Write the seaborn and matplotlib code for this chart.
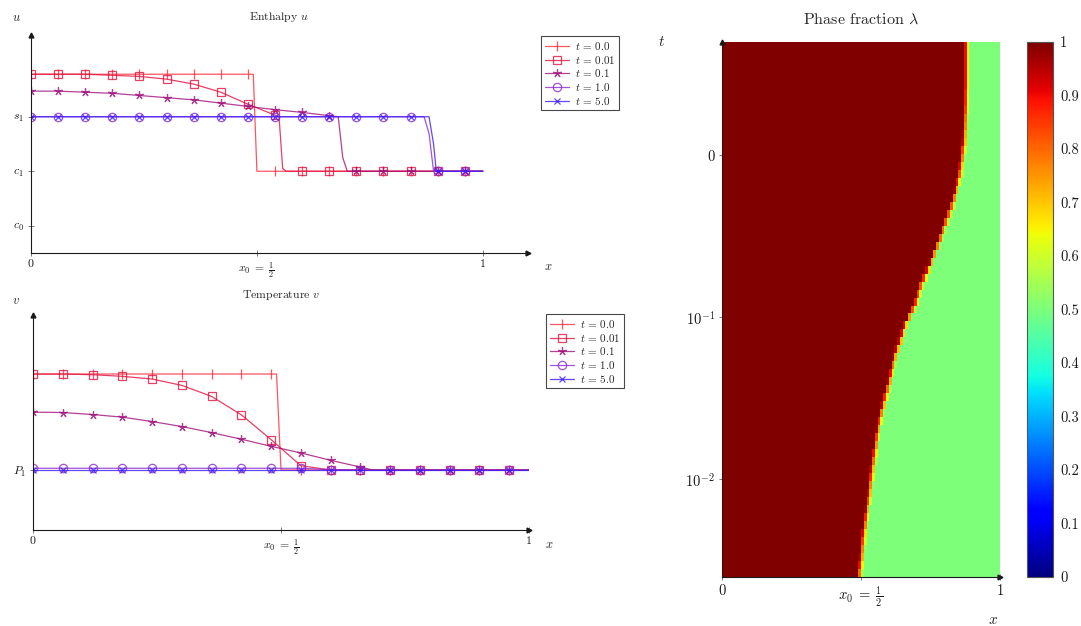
import numpy as np
import pandas as pd
import seaborn as sns
import matplotlib.pyplot as plt
from matplotlib.lines import Line2D

# ---- data ----
times = ["0.0", "0.01", "0.1", "1.0", "5.0"]
colors = ["#ff2a3a", "#e0103e", "#a0107a", "#8a2ad0", "#3a1aff"]
markers = ["|", "s", (5, 2, 0), "o", "x"]
marker_sizes = [6.5, 6, 6, 6, 4.5]
marker_grid = [0, .06, .12, .18, .24, .30, .36, .42, .48, .54, .60, .66, .72, .78, .84, .90, .96]

# enthalpy u  (c0 = 0, c1 = 1, s1 = 2)
u_x_t0 = [0, .06, .12, .18, .24, .30, .36, .42, .48, .492, .50, .54, .60, .66, .72, .78, .84, .90, .96, 1.0]
u_t0 = [2.78, 2.78, 2.78, 2.78, 2.78, 2.78, 2.78, 2.78, 2.78, 2.78, 1.0, 1.0, 1.0, 1.0, 1.0, 1.0, 1.0, 1.0, 1.0, 1.0]
u_x_t001 = [0, .06, .12, .18, .24, .30, .36, .42, .48, .54, .549, .557, .565, .60, .66, .72, .78, .84, .90, .96, 1.0]
u_t001 = [2.78, 2.78, 2.78, 2.76, 2.74, 2.69, 2.60, 2.45, 2.23, 2.03, 2.0, 1.05, 1.0, 1.0, 1.0, 1.0, 1.0, 1.0, 1.0, 1.0, 1.0]
u_x_t01 = [0, .06, .12, .18, .24, .30, .36, .42, .48, .54, .60, .66, .68, .69, .70, .72, .78, .84, .90, .96, 1.0]
u_t01 = [2.47, 2.47, 2.45, 2.43, 2.39, 2.35, 2.31, 2.25, 2.19, 2.13, 2.08, 2.02, 2.0, 1.25, 1.0, 1.0, 1.0, 1.0, 1.0, 1.0, 1.0]
u_x_t1 = [0, .06, .12, .18, .24, .30, .36, .42, .48, .54, .60, .66, .72, .78, .84, .870, .881, .891, .90, .96, 1.0]
u_t1 = [2.0, 2.0, 2.0, 2.0, 2.0, 2.0, 2.0, 2.0, 2.0, 2.0, 2.0, 2.0, 2.0, 2.0, 2.0, 2.0, 1.69, 1.0, 1.0, 1.0, 1.0]
u_x_t5 = [0, .06, .12, .18, .24, .30, .36, .42, .48, .54, .60, .66, .72, .78, .84, .881, .891, .897, .90, .96, 1.0]
u_t5 = [2.0, 2.0, 2.0, 2.0, 2.0, 2.0, 2.0, 2.0, 2.0, 2.0, 2.0, 2.0, 2.0, 2.0, 2.0, 2.0, 1.5, 1.0, 1.0, 1.0, 1.0]

# temperature v  (P1 = 0)
v_x_t0 = [0, .06, .12, .18, .24, .30, .36, .42, .48, .491, .50, .54, .60, .66, .72, .78, .84, .90, .96, 1.0]
v_t0 = [1.0, 1.0, 1.0, 1.0, 1.0, 1.0, 1.0, 1.0, 1.0, 1.0, 0, 0, 0, 0, 0, 0, 0, 0, 0, 0]
v_x_t001 = [0, .06, .12, .18, .24, .30, .36, .42, .48, .54, .60, .66, .72, .78, .84, .90, .96, 1.0]
v_t001 = [1.0, 1.0, 0.993, 0.976, 0.948, 0.882, 0.767, 0.575, 0.317, 0.045, 0, 0, 0, 0, 0, 0, 0, 0]
v_x_t01 = [0, .06, .12, .18, .24, .30, .36, .42, .48, .54, .60, .66, .685, .72, .78, .84, .90, .96, 1.0]
v_t01 = [0.603, 0.599, 0.578, 0.551, 0.505, 0.453, 0.390, 0.321, 0.247, 0.178, 0.101, 0.031, 0, 0, 0, 0, 0, 0, 0]
v_x_t1 = [0, .06, .12, .18, .24, .30, .36, .42, .48, .54, .60, .66, .72, .78, .84, .90, .96, 1.0]
v_t1 = [0.018, 0.018, 0.018, 0.018, 0.018, 0.018, 0.018, 0.018, 0.018, 0.018, 0.005, 0, 0, 0, 0, 0, 0, 0]
v_x_t5 = [0, .06, .12, .18, .24, .30, .36, .42, .48, .54, .60, .66, .72, .78, .84, .90, .96, 1.0]
v_t5 = [0, 0, 0, 0, 0, 0, 0, 0, 0, 0, 0, 0, 0, 0, 0, 0, 0, 0]

# phase fraction: front position (in % of x) for each log-spaced time row, bottom to top
t_min, t_max = 0.0025, 5.0
n_cells = 100
front = [50.2, 50.6, 50.9, 51.1, 51.4, 51.7, 52.1, 52.5, 52.9, 53.4,
         53.8, 54.1, 54.5, 54.8, 55.2, 55.6, 56.0, 56.4, 56.9, 57.5,
         58.1, 58.8, 59.5, 60.2, 60.9, 61.6, 62.2, 62.9, 63.8, 64.8,
         65.7, 66.7, 68.0, 69.3, 70.5, 71.4, 72.3, 73.5, 74.7, 75.9,
         77.0, 78.1, 79.2, 80.2, 81.3, 82.3, 83.3, 84.1, 84.9, 85.6,
         86.3, 86.7, 87.1, 87.4, 87.8, 87.9, 88.1, 88.2, 88.4, 88.5,
         88.5, 88.6, 88.6, 88.6, 88.6, 88.6, 88.6]

u_series = [(u_x_t0, u_t0), (u_x_t001, u_t001), (u_x_t01, u_t01), (u_x_t1, u_t1), (u_x_t5, u_t5)]
v_series = [(v_x_t0, v_t0), (v_x_t001, v_t001), (v_x_t01, v_t01), (v_x_t1, v_t1), (v_x_t5, v_t5)]

# ---- style ----
sns.set_theme(style="ticks")
plt.rcParams["font.family"] = ["cmr10", "DejaVu Serif"]
plt.rcParams["mathtext.fontset"] = "cm"
plt.rcParams["axes.unicode_minus"] = False
plt.rcParams["axes.formatter.use_mathtext"] = True

W, H = 1081, 626
fig = plt.figure(figsize=(W / 100, H / 100), dpi=100)


def px_rect(l, t, r, b):
    return [l / W, 1 - b / H, (r - l) / W, (b - t) / H]


def arrow_axes(ax, size=8.5):
    for s in ["top", "right"]:
        ax.spines[s].set_visible(False)
    for s in ["left", "bottom"]:
        ax.spines[s].set_linewidth(0.8)
        ax.spines[s].set_color("k")
    ax.plot(1, 0, ">", color="k", ms=3.5, transform=ax.transAxes, clip_on=False)
    ax.plot(0, 1, "^", color="k", ms=3.5, transform=ax.transAxes, clip_on=False)
    ax.tick_params(direction="inout", length=4, width=0.6, colors="#666666",
                   labelcolor="k", labelsize=size, pad=3)


def profiles(ax, series):
    grid = np.round(marker_grid, 3)
    for (xs, ys), c, m, s in zip(series, colors, markers, marker_sizes):
        idx = list(np.where(np.isin(np.round(xs, 3), grid))[0])
        df = pd.DataFrame({"x": xs, "y": ys})
        sns.lineplot(data=df, x="x", y="y", ax=ax, color=c, marker=m, markevery=idx,
                     ms=s, mfc="none", mec=c, mew=0.9, lw=0.9, alpha=0.8)
    handles = [Line2D([], [], color=c, marker=m, ms=s, mfc="none", mec=c, mew=0.9, lw=0.9, alpha=0.8)
               for c, m, s in zip(colors, markers, marker_sizes)]
    return handles


legend_labels = [f"$t\\,=\\,{t}$" for t in times]
x_labels = ["0", r"$x_0\;=\;\frac{1}{2}$", "1"]

# ---- enthalpy ----
ax_u = fig.add_axes(px_rect(31, 35, 528, 253))
h = profiles(ax_u, u_series)
ax_u.set_xlim(0, 1.1)
ax_u.set_ylim(-0.5, 3.5)
ax_u.set_xticks([0, 0.5, 1], x_labels)
ax_u.set_yticks([0, 1, 2], ["$c_0$", "$c_1$", "$s_1$"])
ax_u.set_xlabel("")
ax_u.set_ylabel("")
arrow_axes(ax_u)
ax_u.set_title("Enthalpy $u$", fontsize=8.5, pad=11)
fig.text(16 / W, 1 - 18 / H, "$u$", fontsize=9, ha="center", va="center")
fig.text(548 / W, 1 - 267 / H, "$x$", fontsize=9, ha="center", va="center")
leg = fig.legend(h, legend_labels, loc="upper left", bbox_to_anchor=(541 / W, 1 - 36 / H),
                 fontsize=8, frameon=True, fancybox=False, handlelength=2.2, borderpad=0.35,
                 labelspacing=0.15, handletextpad=0.5, borderaxespad=0)
leg.get_frame().set_edgecolor("k")
leg.get_frame().set_linewidth(0.8)

# ---- temperature ----
ax_v = fig.add_axes(px_rect(33, 315, 529, 530))
h = profiles(ax_v, v_series)
ax_v.set_xlim(0, 1)
ax_v.set_ylim(-0.625, 1.615)
ax_v.set_xticks([0, 0.5, 1], x_labels)
ax_v.set_yticks([0], ["$P_1$"])
ax_v.set_xlabel("")
ax_v.set_ylabel("")
arrow_axes(ax_v)
ax_v.set_title("Temperature $v$", fontsize=8.5, pad=12)
fig.text(16 / W, 1 - 301 / H, "$v$", fontsize=9, ha="center", va="center")
fig.text(549 / W, 1 - 545 / H, "$x$", fontsize=9, ha="center", va="center")
leg = fig.legend(h, legend_labels, loc="upper left", bbox_to_anchor=(546 / W, 1 - 314 / H),
                 fontsize=8, frameon=True, fancybox=False, handlelength=2.2, borderpad=0.35,
                 labelspacing=0.15, handletextpad=0.5, borderaxespad=0)
leg.get_frame().set_edgecolor("k")
leg.get_frame().set_linewidth(0.8)

# ---- phase fraction map ----
x_edges = np.linspace(0, 1, n_cells + 1)
t_edges = np.logspace(np.log10(t_min), np.log10(t_max), len(front) + 1)
cell_mid = (np.arange(n_cells) + 0.5)
lam = np.array([0.5 + 0.5 * np.clip((f - cell_mid) / 2 + 0.25, 0, 1) for f in front])

ax_h = fig.add_axes(px_rect(722, 42, 1000, 577))
mesh = ax_h.pcolormesh(x_edges, t_edges, lam, cmap="jet", vmin=0, vmax=1, shading="flat")
ax_h.set_yscale("log")
ax_h.set_xlim(0, 1)
ax_h.set_ylim(t_min, t_max)
ax_h.set_xticks([0, 0.5, 1], x_labels)
ax_h.set_yticks([1, 0.1, 0.01], ["0", "$10^{-1}$", "$10^{-2}$"])
ax_h.minorticks_off()
arrow_axes(ax_h, size=10.5)
ax_h.set_title(r"Phase fraction $\lambda$", fontsize=11.5, pad=13)
fig.text(662 / W, 1 - 42 / H, "$t$", fontsize=11, ha="center", va="center")
fig.text(993 / W, 1 - 620 / H, "$x$", fontsize=11, ha="center", va="center")

cax = fig.add_axes(px_rect(1027, 42, 1053, 577))
cb = fig.colorbar(mesh, cax=cax)
cb_ticks = np.round(np.linspace(0, 1, 11), 1)
cb.set_ticks(cb_ticks, labels=[f"{v:g}" for v in cb_ticks])
cb.outline.set_edgecolor("#555555")
cb.outline.set_linewidth(0.8)
cax.tick_params(direction="in", left=True, right=True, length=6, width=0.8,
                colors="#888888", labelcolor="k", labelsize=10.5, pad=5)
cax.minorticks_off()

fig.savefig("out.png", dpi=100)
